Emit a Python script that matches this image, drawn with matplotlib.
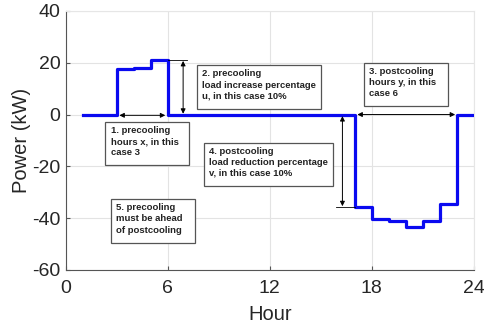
import matplotlib
matplotlib.use("Agg")
import matplotlib.pyplot as plt
from matplotlib.patches import Rectangle

hours = list(range(1, 25))
power = [0, 0, 17.5, 18.0, 20.9, 0, 0, 0, 0, 0, 0, 0, 0, 0, 0, 0,
         -35.6, -40.5, -41.1, -43.6, -41.1, -34.7, 0, 0]
x_ticks = [0, 6, 12, 18, 24]
y_ticks = [-60, -40, -20, 0, 20, 40]

notes = [
    ("1. precooling\nhours x, in this\ncase 3", (2.33, -19.5, 4.92, 16.5)),
    ("2. precooling\nload increase percentage\nu, in this case 10%", (7.69, 2.1, 7.31, 17.0)),
    ("3. postcooling\nhours y, in this\ncase 6", (17.53, 3.3, 4.96, 16.5)),
    ("4. postcooling\nload reduction percentage\nv, in this case 10%", (8.12, -27.6, 7.6, 16.7)),
    ("5. precooling\nmust be ahead\nof postcooling", (2.65, -49.5, 4.95, 16.8)),
]

plt.rcParams['font.family'] = ['Liberation Sans', 'DejaVu Sans']
plt.rcParams['axes.unicode_minus'] = False
fig = plt.figure(figsize=(4.84, 3.32), dpi=100)
ax = fig.add_axes([0.136, 0.187, 0.843, 0.780])

ax.step(hours, power, where='post', color='#0a0af0', lw=2.3, zorder=3)

ax.set_xlim(0, 24)
ax.set_ylim(-60, 40)
ax.set_xticks(x_ticks)
ax.set_yticks(y_ticks)
ax.grid(True, color='#e3e3e3', lw=0.8)
ax.set_axisbelow(True)
for s in ['top', 'right']:
    ax.spines[s].set_color('#e6e6e6')
for s in ['left', 'bottom']:
    ax.spines[s].set_color('#555555')
    ax.spines[s].set_linewidth(0.8)
ax.tick_params(direction='in', length=3, colors='#555555', labelcolor='#262626',
               labelsize=14)
ax.tick_params(axis='x', pad=7)
ax.tick_params(axis='y', pad=4)
ax.set_xlabel('Hour', fontsize=14.5, color='#262626', labelpad=6)
ax.set_ylabel('Power (kW)', fontsize=14.5, color='#262626', labelpad=1)

# annotation boxes
for txt, (x0, y0, w, h) in notes:
    ax.add_patch(Rectangle((x0, y0), w, h, fc='white', ec='#555555', lw=0.9, zorder=4))
    ax.text(x0 + 0.3, y0 + h / 2 + 0.8, txt, fontsize=6.8, fontweight='bold', color='#222222',
            va='center', ha='left', linespacing=1.3, zorder=5)

arr = dict(arrowstyle='<|-|>', color='black', lw=0.7, mutation_scale=7, shrinkA=0, shrinkB=0)
# 1. precooling hours
ax.annotate('', xy=(3.15, -0.3), xytext=(5.85, -0.3), arrowprops=arr, zorder=6)
# 2. load increase
ax.annotate('', xy=(6.9, 0.3), xytext=(6.9, 20.7), arrowprops=arr, zorder=6)
ax.plot([6.0, 7.1], [20.9, 20.9], color='black', lw=0.6, zorder=6)
# 3. postcooling hours
ax.annotate('', xy=(17.15, 0.0), xytext=(22.9, 0.0), arrowprops=arr, zorder=6)
# 4. load reduction
ax.annotate('', xy=(16.27, -0.6), xytext=(16.27, -35.4), arrowprops=arr, zorder=6)
ax.plot([15.9, 17.0], [-35.8, -35.8], color='black', lw=0.6, zorder=6)

fig.savefig('out.png', dpi=100)
